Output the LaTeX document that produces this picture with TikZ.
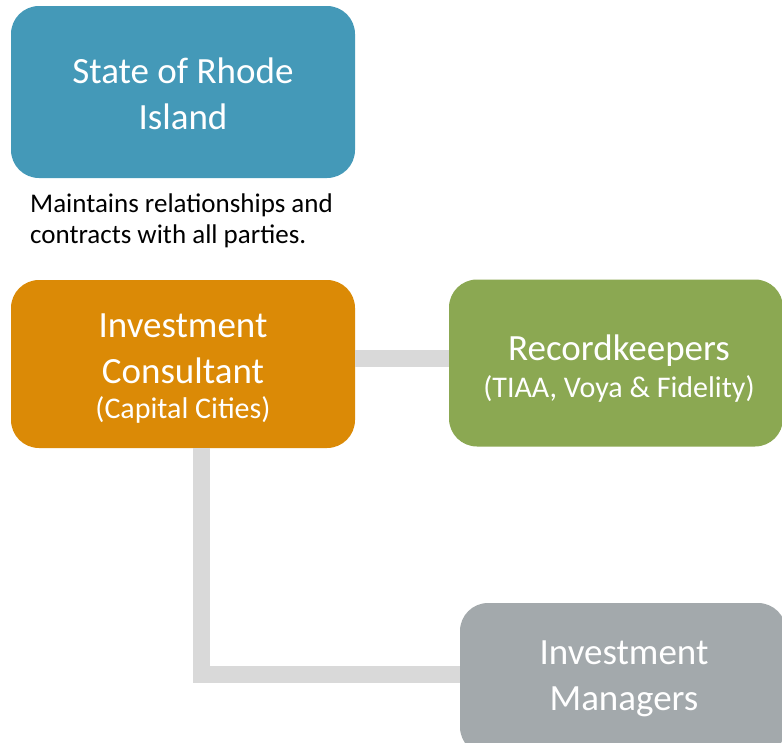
\documentclass[tikz,border=0pt]{standalone}
\usepackage{fontspec}
\setmainfont{Carlito}
\definecolor{cblue}{HTML}{4499B8}
\definecolor{corange}{HTML}{DB8A06}
\definecolor{cgreen}{HTML}{8BA852}
\definecolor{cgray}{HTML}{A3A9AC}
\definecolor{cline}{HTML}{D9D9D9}
\begin{document}
\begin{tikzpicture}[x=1pt,y=-1pt,
  box/.style={rounded corners=28pt, inner sep=0pt},
  boxtext/.style={anchor=base, inner sep=0pt, align=center, text=white,
    font=\fontsize{37}{46}\selectfont},
  small/.style={font=\fontsize{30}{35}\selectfont},
  link/.style={draw=cline, line width=17pt}]
\useasboundingbox (0,0) rectangle (782,742);
\clip (0,0) rectangle (782,742);
\fill[white] (0,0) rectangle (782,742);
% boxes
\node[box, fill=cblue, minimum width=344pt, minimum height=172pt] (state) at (183,92) {};
\node[box, fill=corange, minimum width=344pt, minimum height=168pt] (cons) at (183,364) {};
\node[box, fill=cgreen, minimum width=334pt, minimum height=167pt] (rec) at (616,363) {};
\node[box, fill=cgray, minimum width=326pt, minimum height=152pt] (mgr) at (623,679) {};
% texts (anchored at the baseline of the last line)
\node[boxtext] (stateT) at (183,129) {State of Rhode\\Island};
\node[boxtext] (consT) at (183,418) {Investment\\Consultant\\[-11pt]{\fontsize{30}{35}\selectfont (Capital Cities)}};
\node[boxtext] (recT) at (619,397) {Recordkeepers\\[-9pt]{\fontsize{30}{35}\selectfont (TIAA, Voya \& Fidelity)}};
\node[boxtext] (mgrT) at (624,710) {Investment\\Managers};
\node[anchor=base west, align=left, inner sep=0pt, font=\fontsize{27}{31}\selectfont] (desc) at (30,243) {Maintains relationships and\\contracts with all parties.};
% connectors
\draw[link] (cons.east |- 0,358.5) -- (rec.west |- 0,358.5);
\draw[link] (cons.south -| 201,0) |- (mgr.west |- 0,674.5);
\end{tikzpicture}
\end{document}
